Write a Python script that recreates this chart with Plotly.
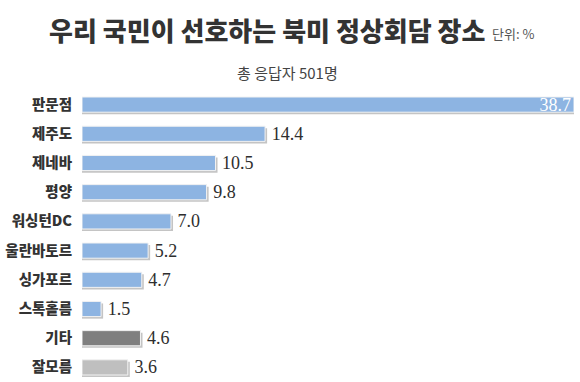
import plotly.graph_objects as go

categories = ["판문점", "제주도", "제네바", "평양", "워싱턴DC", "울란바토르", "싱가포르", "스톡홀름", "기타", "잘모름"]
values = [38.7, 14.4, 10.5, 9.8, 7.0, 5.2, 4.7, 1.5, 4.6, 3.6]
bar_colors = ["#8DB4E2"] * 8 + ["#7F7F7F", "#BFBFBF"]
title_text = "우리 국민이 선호하는 북미 정상회담 장소"
unit_text = "단위: %"
subtitle_text = "총 응답자 501명"

KR = "Noto Sans CJK KR"

text_pos = ["inside"] + ["outside"] * (len(values) - 1)
text_colors = ["#FFFFFF"] + ["#2E2E2E"] * (len(values) - 1)
labels = [f"{values[0]:.1f}"] + ["\u2009" + f"{v:.1f}" for v in values[1:]]

BAR_W = 0.52
SHADOW_DX = 0.16   # ~2px in data units
SHADOW_DY = 0.07   # ~2px in category units

fig = go.Figure()
# soft drop shadow
fig.add_trace(go.Bar(
    x=[v + SHADOW_DX for v in values], y=categories, orientation="h",
    width=BAR_W, offset=-BAR_W / 2 + SHADOW_DY,
    marker=dict(color="#C4C4C4", line=dict(width=0)),
    hoverinfo="skip", cliponaxis=False,
))
fig.add_trace(go.Bar(
    x=values, y=categories, orientation="h",
    width=BAR_W, offset=-BAR_W / 2,
    marker=dict(color=bar_colors, line=dict(color="#F2F2F2", width=1)),
    text=labels,
    textposition=text_pos,
    insidetextanchor="end",
    constraintext="none",
    textfont=dict(family="Liberation Serif", size=18, color=text_colors),
    cliponaxis=False,
    hoverinfo="skip",
))

fig.update_layout(
    width=580, height=382,
    margin=dict(l=82, r=6, t=90, b=0),
    paper_bgcolor="white", plot_bgcolor="white",
    showlegend=False,
    barmode="overlay",
    xaxis=dict(range=[0, 38.7], visible=False, fixedrange=True),
    yaxis=dict(autorange="reversed", showgrid=False, zeroline=False, showline=False,
               ticks="", ticklabelstandoff=9, fixedrange=True,
               tickfont=dict(family=KR, size=14.5, color="#333333", weight=900)),
    annotations=[
        dict(text=title_text, x=267, y=29.5, showarrow=False,
             font=dict(family=KR, size=26, color="#333333", weight=900)),
        dict(text=unit_text, x=513, y=33, showarrow=False,
             font=dict(family=KR, size=13, color="#555555")),
        dict(text=subtitle_text, x=287, y=72, showarrow=False,
             font=dict(family=KR, size=15, color="#444444")),
    ],
)

# convert annotation pixel positions to paper coordinates
W, H = 580, 382
l, r, t, b = 82, 6, 90, 0
pw, ph = W - l - r, H - t - b
new_ann = []
for a in fig.layout.annotations:
    px, py = a.x, a.y
    a.update(x=(px - l) / pw, y=1 - (py - t) / ph, xref="paper", yref="paper",
             xanchor="center", yanchor="middle")
    new_ann.append(a)
fig.layout.annotations = new_ann

fig.write_html("out.html", config={"displayModeBar": False},
               post_script="document.body.style.margin='0';document.body.style.overflow='hidden';")
